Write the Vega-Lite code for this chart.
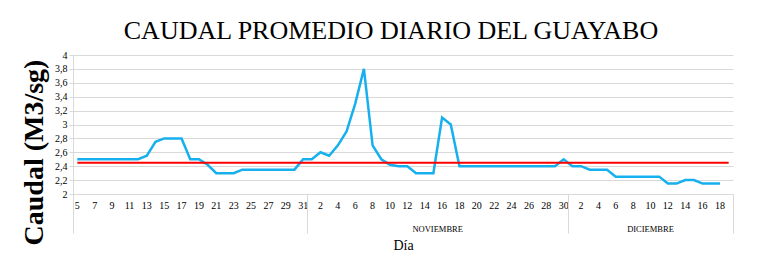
{
  "$schema": "https://vega.github.io/schema/vega-lite/v6.json",
  "autosize": "none",
  "padding": {"left": 73, "top": 55, "right": 38, "bottom": 77},
  "width": 660,
  "height": 139,
  "background": "white",
  "title": {"text": "CAUDAL PROMEDIO DIARIO DEL GUAYABO", "font": "Liberation Serif", "fontSize": 26, "fontWeight": "normal", "color": "#000000", "offset": 6, "dx": -12, "anchor": "middle"},
  "data": {"values": [
    {"fecha": "10-05", "caudal": 2.5, "media": 2.45},
    {"fecha": "10-06", "caudal": 2.5, "media": 2.45},
    {"fecha": "10-07", "caudal": 2.5, "media": 2.45},
    {"fecha": "10-08", "caudal": 2.5, "media": 2.45},
    {"fecha": "10-09", "caudal": 2.5, "media": 2.45},
    {"fecha": "10-10", "caudal": 2.5, "media": 2.45},
    {"fecha": "10-11", "caudal": 2.5, "media": 2.45},
    {"fecha": "10-12", "caudal": 2.5, "media": 2.45},
    {"fecha": "10-13", "caudal": 2.55, "media": 2.45},
    {"fecha": "10-14", "caudal": 2.75, "media": 2.45},
    {"fecha": "10-15", "caudal": 2.8, "media": 2.45},
    {"fecha": "10-16", "caudal": 2.8, "media": 2.45},
    {"fecha": "10-17", "caudal": 2.8, "media": 2.45},
    {"fecha": "10-18", "caudal": 2.5, "media": 2.45},
    {"fecha": "10-19", "caudal": 2.5, "media": 2.45},
    {"fecha": "10-20", "caudal": 2.42, "media": 2.45},
    {"fecha": "10-21", "caudal": 2.3, "media": 2.45},
    {"fecha": "10-22", "caudal": 2.3, "media": 2.45},
    {"fecha": "10-23", "caudal": 2.3, "media": 2.45},
    {"fecha": "10-24", "caudal": 2.35, "media": 2.45},
    {"fecha": "10-25", "caudal": 2.35, "media": 2.45},
    {"fecha": "10-26", "caudal": 2.35, "media": 2.45},
    {"fecha": "10-27", "caudal": 2.35, "media": 2.45},
    {"fecha": "10-28", "caudal": 2.35, "media": 2.45},
    {"fecha": "10-29", "caudal": 2.35, "media": 2.45},
    {"fecha": "10-30", "caudal": 2.35, "media": 2.45},
    {"fecha": "10-31", "caudal": 2.5, "media": 2.45},
    {"fecha": "11-01", "caudal": 2.5, "media": 2.45},
    {"fecha": "11-02", "caudal": 2.6, "media": 2.45},
    {"fecha": "11-03", "caudal": 2.55, "media": 2.45},
    {"fecha": "11-04", "caudal": 2.7, "media": 2.45},
    {"fecha": "11-05", "caudal": 2.9, "media": 2.45},
    {"fecha": "11-06", "caudal": 3.3, "media": 2.45},
    {"fecha": "11-07", "caudal": 3.8, "media": 2.45},
    {"fecha": "11-08", "caudal": 2.7, "media": 2.45},
    {"fecha": "11-09", "caudal": 2.5, "media": 2.45},
    {"fecha": "11-10", "caudal": 2.42, "media": 2.45},
    {"fecha": "11-11", "caudal": 2.4, "media": 2.45},
    {"fecha": "11-12", "caudal": 2.4, "media": 2.45},
    {"fecha": "11-13", "caudal": 2.3, "media": 2.45},
    {"fecha": "11-14", "caudal": 2.3, "media": 2.45},
    {"fecha": "11-15", "caudal": 2.3, "media": 2.45},
    {"fecha": "11-16", "caudal": 3.1, "media": 2.45},
    {"fecha": "11-17", "caudal": 3.0, "media": 2.45},
    {"fecha": "11-18", "caudal": 2.4, "media": 2.45},
    {"fecha": "11-19", "caudal": 2.4, "media": 2.45},
    {"fecha": "11-20", "caudal": 2.4, "media": 2.45},
    {"fecha": "11-21", "caudal": 2.4, "media": 2.45},
    {"fecha": "11-22", "caudal": 2.4, "media": 2.45},
    {"fecha": "11-23", "caudal": 2.4, "media": 2.45},
    {"fecha": "11-24", "caudal": 2.4, "media": 2.45},
    {"fecha": "11-25", "caudal": 2.4, "media": 2.45},
    {"fecha": "11-26", "caudal": 2.4, "media": 2.45},
    {"fecha": "11-27", "caudal": 2.4, "media": 2.45},
    {"fecha": "11-28", "caudal": 2.4, "media": 2.45},
    {"fecha": "11-29", "caudal": 2.4, "media": 2.45},
    {"fecha": "11-30", "caudal": 2.5, "media": 2.45},
    {"fecha": "12-01", "caudal": 2.4, "media": 2.45},
    {"fecha": "12-02", "caudal": 2.4, "media": 2.45},
    {"fecha": "12-03", "caudal": 2.35, "media": 2.45},
    {"fecha": "12-04", "caudal": 2.35, "media": 2.45},
    {"fecha": "12-05", "caudal": 2.35, "media": 2.45},
    {"fecha": "12-06", "caudal": 2.25, "media": 2.45},
    {"fecha": "12-07", "caudal": 2.25, "media": 2.45},
    {"fecha": "12-08", "caudal": 2.25, "media": 2.45},
    {"fecha": "12-09", "caudal": 2.25, "media": 2.45},
    {"fecha": "12-10", "caudal": 2.25, "media": 2.45},
    {"fecha": "12-11", "caudal": 2.25, "media": 2.45},
    {"fecha": "12-12", "caudal": 2.15, "media": 2.45},
    {"fecha": "12-13", "caudal": 2.15, "media": 2.45},
    {"fecha": "12-14", "caudal": 2.2, "media": 2.45},
    {"fecha": "12-15", "caudal": 2.2, "media": 2.45},
    {"fecha": "12-16", "caudal": 2.15, "media": 2.45},
    {"fecha": "12-17", "caudal": 2.15, "media": 2.45},
    {"fecha": "12-18", "caudal": 2.15, "media": 2.45},
    {"fecha": "12-19", "caudal": null, "media": 2.45}
  ]},
  "layer": [
    {
      "mark": {"type": "line", "color": "#17b0ee", "strokeWidth": 2.5, "interpolate": "linear"},
      "encoding": {
        "x": {"field": "fecha", "type": "ordinal", "scale": {"type": "band", "paddingInner": 0, "paddingOuter": 0},
          "axis": {"orient": "bottom", "title": "Día", "titleFont": "Liberation Serif", "titleFontSize": 14, "titleFontWeight": "normal", "titleColor": "#000000", "titlePadding": 28,
            "labelFont": "Liberation Serif", "labelFontSize": 10, "labelColor": "#000000", "labelAngle": 0, "labelPadding": 6, "labelOverlap": false,
            "labelExpr": "(slice(datum.value,0,2)=='10' ? toNumber(slice(datum.value,3))%2==1 : toNumber(slice(datum.value,3))%2==0) ? toString(toNumber(slice(datum.value,3))) : ''",
            "ticks": false, "tickSize": 0, "domainColor": "#d9d9d9", "domainWidth": 1, "grid": false}},
        "y": {"field": "caudal", "type": "quantitative", "scale": {"domain": [2, 4], "nice": false, "zero": false},
          "axis": {"orient": "left", "title": "Caudal (M3/sg)", "values": [2, 2.2, 2.4, 2.6, 2.8, 3, 3.2, 3.4, 3.6, 3.8, 4],
            "labelExpr": "replace(format(datum.value,'.1~f'),'.',',')",
            "labelFont": "Liberation Serif", "labelFontSize": 10, "labelColor": "#000000", "labelPadding": 2,
            "tickSize": 4, "tickColor": "#d9d9d9", "domainColor": "#d9d9d9", "grid": true, "gridColor": "#d9d9d9", "gridWidth": 1,
            "titleFont": "Liberation Serif", "titleFontSize": 28, "titleFontWeight": "bold", "titleColor": "#000000", "titlePadding": 6, "titleY": 97}}
      }
    },
    {
      "mark": {"type": "line", "color": "#ff0000", "strokeWidth": 2},
      "encoding": {
        "x": {"field": "fecha", "type": "ordinal", "scale": {"type": "band", "paddingInner": 0, "paddingOuter": 0},
          "axis": {"orient": "bottom", "title": null, "labels": false, "domain": false, "grid": false, "ticks": true, "tickSize": 39, "tickColor": "#d9d9d9", "tickWidth": 1, "bandPosition": 0, "values": ["10-05", "11-01", "12-01"]}},
        "y": {"field": "media", "type": "quantitative", "scale": {"domain": [2, 4], "nice": false, "zero": false}, "axis": null}
      }
    },
    {
      "mark": {"type": "line", "opacity": 0},
      "encoding": {
        "x": {"field": "fecha", "type": "ordinal", "scale": {"type": "band", "paddingInner": 0, "paddingOuter": 0},
          "axis": {"orient": "bottom", "title": null, "domain": false, "grid": false, "ticks": true, "tickSize": 39, "tickColor": "#d9d9d9", "tickWidth": 1, "bandPosition": 1,
            "tickOpacity": {"condition": {"test": "datum.value=='12-19'", "value": 1}, "value": 0},
            "values": ["11-15", "12-10", "12-19"],
            "labelExpr": "datum.value=='11-15' ? 'NOVIEMBRE' : datum.value=='12-10' ? 'DICIEMBRE' : ''",
            "labelFont": "Liberation Serif", "labelFontSize": 8.5, "labelColor": "#000000", "labelPadding": -9, "labelAngle": 0, "labelOverlap": false,
            "labelOffset": {"condition": {"test": "datum.value=='11-15'", "value": 4.3}, "value": 0}}},
        "y": {"field": "media", "type": "quantitative", "scale": {"domain": [2, 4], "nice": false, "zero": false}, "axis": null}
      }
    }
  ],
  "resolve": {"axis": {"x": "independent", "y": "independent"}},
  "config": {"view": {"stroke": null}}
}
